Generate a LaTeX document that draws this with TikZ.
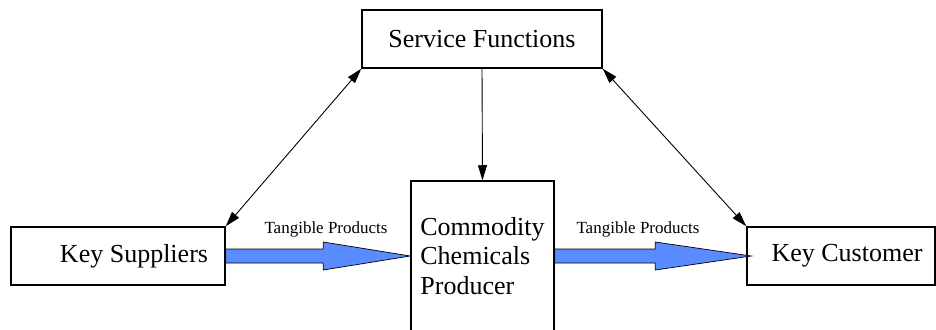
\documentclass[tikz,border=0pt]{standalone}
\usepackage{fontspec}
\setmainfont{Liberation Serif}
\usepackage{xcolor}
\definecolor{flowBlue}{HTML}{5A8CFF}
\usetikzlibrary{arrows.meta,calc,positioning}
\tikzset{%
  entityBox/.style={%
    rectangle,
    draw=black,
    line width=1.5pt,
    fill=white,
    inner sep=0pt,
    font=\fontsize{26}{29.5}\selectfont
  },
  linkArrow/.style={%
    {Triangle[length=15pt,width=9pt]}-{Triangle[length=15pt,width=9pt]},
    line width=0.9pt
  },
  feedArrow/.style={%
    -{Triangle[length=15pt,width=9pt]},
    line width=0.9pt
  },
  flowArrow/.style={%
    draw=black,
    line width=0.7pt,
    fill=flowBlue
  },
  flowLabel/.style={%
    inner sep=0pt,
    font=\fontsize{17}{20}\selectfont
  }
}

\begin{document}
\begin{tikzpicture}[x=1pt,y=-1pt]
  \useasboundingbox (0,0) rectangle (936,329);

  \node[entityBox, minimum width=240pt, minimum height=58pt] (serv) at (482,39) {Service Functions};
  \node[entityBox, minimum width=214pt, minimum height=58pt] (sup) at (118,256) {\hspace*{32pt}Key Suppliers};
  \node[entityBox, minimum width=143pt, minimum height=150pt, align=left] (prod) at (482.5,256) {Commodity\\Chemicals\\Producer};
  \node[entityBox, minimum width=188pt, minimum height=58pt] (cust) at (841,256) {\hspace*{12pt}Key Customer};

  % information links
  \draw[linkArrow] (sup.north east) -- (serv.south west);
  \draw[linkArrow] (serv.south east) -- (cust.north west);
  \draw[feedArrow] (serv.south) -- (prod.north);

  % product flow
  \path[flowArrow] let \p1=(sup.east), \p2=(prod.west) in
    (\x1,\y1+7pt) -- (\x2-87pt,\y1+7pt) -- (\x2-87pt,\y1+14pt) -- (\x2,\y2)
    -- (\x2-87pt,\y1-14pt) -- (\x2-87pt,\y1-7pt) -- (\x1,\y1-7pt) -- cycle;
  \path[flowArrow] let \p1=(prod.east), \p2=(cust.west) in
    (\x1,\y1+7pt) -- (\x2-91pt,\y1+7pt) -- (\x2-91pt,\y1+14pt) -- (\x2+5pt,\y2)
    -- (\x2-91pt,\y1-14pt) -- (\x2-91pt,\y1-7pt) -- (\x1,\y1-7pt) -- cycle;

  \node[flowLabel] (lblIn) at (326,229) {Tangible Products};
  \node[flowLabel] (lblOut) at (638,229) {Tangible Products};
\end{tikzpicture}
\end{document}
